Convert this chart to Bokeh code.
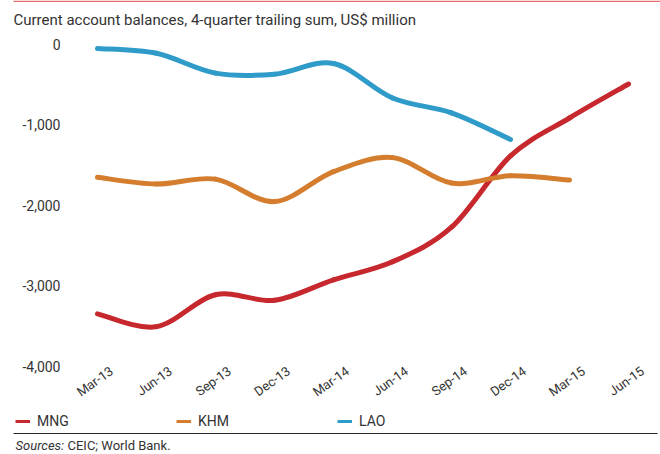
from bokeh.plotting import figure
from bokeh.layouts import column
from bokeh.models import Legend, LegendItem, FixedTicker, Range1d, ColumnDataSource
from bokeh.core.properties import value
from bokeh.embed import file_html
from bokeh.resources import INLINE

# ---- data ----
quarters = ["Mar-13", "Jun-13", "Sep-13", "Dec-13", "Mar-14", "Jun-14",
            "Sep-14", "Dec-14", "Mar-15", "Jun-15"]
mng = [-3346, -3505, -3108, -3177, -2923, -2700, -2270, -1385, -914, -492]
khm = [-1650, -1735, -1673, -1952, -1580, -1406, -1722, -1630, -1685]
lao = [-50, -110, -357, -370, -238, -665, -850, -1180]
y_ticks = [0, -1000, -2000, -3000, -4000]
y_tick_labels = ["0", "-1,000", "-2,000", "-3,000", "-4,000"]
series_names = ["MNG", "KHM", "LAO"]
title_text = "Current account balances, 4-quarter trailing sum, US$ million"

# ---- style ----
FONT = "Roboto"
TXT = "#333333"
colors = {"MNG": "#C7282E", "KHM": "#D57D2E", "LAO": "#2F9BC9"}
W = 660


def bare(width, height):
    fig = figure(width=width, height=height, output_backend="svg",
                 toolbar_location=None, x_axis_location=None, y_axis_location=None,
                 x_range=Range1d(0, width), y_range=Range1d(height, 0),
                 min_border=0, min_border_left=0, min_border_right=0,
                 min_border_top=0, min_border_bottom=0)
    fig.outline_line_color = None
    fig.xgrid.visible = False
    fig.ygrid.visible = False
    return fig


# ---- header: rule + headline ----
head = bare(W, 36)
head.segment(x0=[13], y0=[0.75], x1=[W], y1=[0.75], line_color="#E36C6C", line_width=1.5)
head.text(x=[13], y=[19], text=[title_text], text_font=value(FONT),
          text_font_size="15px", text_color=TXT, text_baseline="middle")

# ---- main chart (frame spans the full width; y labels sit inside it) ----
p = figure(width=W, height=372, output_backend="svg", toolbar_location=None,
           x_range=Range1d(-1.644, 9.542), y_range=Range1d(-4037, 98),
           min_border_left=0, min_border_right=0, min_border_top=0,
           min_border_bottom=36)
p.outline_line_color = None
p.xgrid.visible = False
p.ygrid.visible = False


def smooth_segments(xs, ys):
    """Bezier control points (Catmull-Rom style smoothing) between the points."""
    n = len(xs)
    d = dict(x0=[], y0=[], x1=[], y1=[], cx0=[], cy0=[], cx1=[], cy1=[])
    for i in range(n - 1):
        a = i - 1 if i > 0 else i
        b = i + 2 if i + 2 < n else i + 1
        d["x0"].append(xs[i]); d["y0"].append(ys[i])
        d["x1"].append(xs[i + 1]); d["y1"].append(ys[i + 1])
        d["cx0"].append(xs[i] + (xs[i + 1] - xs[a]) / 6)
        d["cy0"].append(ys[i] + (ys[i + 1] - ys[a]) / 6)
        d["cx1"].append(xs[i + 1] - (xs[b] - xs[i]) / 6)
        d["cy1"].append(ys[i + 1] - (ys[b] - ys[i]) / 6)
    return d


for name, vals in zip(series_names, [mng, khm, lao]):
    xs = list(range(len(vals)))
    src = ColumnDataSource(smooth_segments(xs, vals))
    p.bezier(x0="x0", y0="y0", x1="x1", y1="y1", cx0="cx0", cy0="cy0",
             cx1="cx1", cy1="cy1", source=src, line_color=colors[name],
             line_width=5, line_cap="round")

# x labels: rotated, their ends sit a little right of each quarter
label_shift = 0.24
xa = p.xaxis[0]
xa.ticker = FixedTicker(ticks=[i + label_shift for i in range(len(quarters))])
xa.major_label_overrides = {i + label_shift: q for i, q in enumerate(quarters)}
xa.major_label_orientation = 0.62
xa.axis_line_color = None
xa.major_tick_line_color = None
xa.minor_tick_line_color = None
xa.major_tick_out = 0
xa.major_tick_in = 0
xa.major_label_standoff = 0
xa.major_label_text_font = FONT
xa.major_label_text_font_size = "13px"
xa.major_label_text_color = TXT

ya = p.yaxis[0]
ya.ticker = FixedTicker(ticks=y_ticks)
ya.major_label_overrides = {t: l for t, l in zip(y_ticks, y_tick_labels)}
ya.axis_line_color = None
ya.major_tick_line_color = None
ya.minor_tick_line_color = None
ya.major_tick_out = 0
ya.major_tick_in = 0
ya.major_label_standoff = -60
ya.major_label_text_font = FONT
ya.major_label_text_font_size = "14px"
ya.major_label_text_color = TXT

# ---- footer: legend, rule, source ----
foot = bare(W, 46)
items = []
for name, vals in zip(series_names, [mng, khm, lao]):
    r = foot.line(list(range(len(vals))), vals, line_color=colors[name],
                  line_width=3, visible=False)
    items.append(LegendItem(label=name, renderers=[r]))
legend = Legend(items=items, orientation="horizontal", location=(15, 25),
                padding=0, margin=0, spacing=0, border_line_color=None,
                background_fill_alpha=0, glyph_width=15, glyph_height=16,
                label_height=16, label_width=139, label_standoff=7,
                label_text_font=FONT, label_text_font_size="14px",
                label_text_color=TXT, inactive_fill_alpha=0)
foot.add_layout(legend, "center")
foot.segment(x0=[13], y0=[25], x1=[657], y1=[25], line_color="#222222", line_width=1)
foot.text(x=[15], y=[37], text=["Sources:"], text_font=value(FONT),
          text_font_size="13px", text_font_style="italic", text_color=TXT,
          text_baseline="middle")
foot.text(x=[67], y=[37], text=["CEIC; World Bank."], text_font=value(FONT),
          text_font_size="13px", text_color=TXT, text_baseline="middle")

layout = column(head, p, foot, spacing=0)
open("out.html", "w").write(file_html(layout, INLINE))
